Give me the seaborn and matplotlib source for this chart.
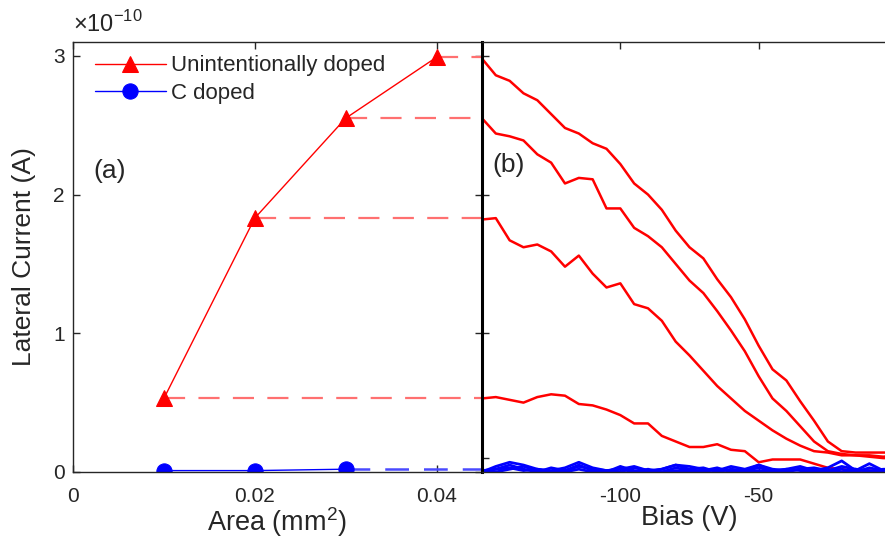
import numpy as np
import pandas as pd
import seaborn as sns
import matplotlib
matplotlib.use('Agg')
import matplotlib.pyplot as plt

# 数据 (电流单位: 1e-10 A)
area = [0.01, 0.02, 0.03, 0.04]
current_uid = [0.53, 1.83, 2.55, 2.99]
area_c = [0.01, 0.02, 0.03]
current_c = [0.01, 0.01, 0.02]

bias = np.arange(-150, 1, 5)
red1 = [2.98, 2.86, 2.82, 2.73, 2.68, 2.58, 2.48, 2.44, 2.37, 2.33, 2.22, 2.08, 2.00, 1.89, 1.74, 1.62,
        1.54, 1.39, 1.26, 1.10, 0.91, 0.74, 0.66, 0.51, 0.37, 0.22, 0.15, 0.14, 0.14, 0.14, 0.14]
red2 = [2.55, 2.44, 2.42, 2.39, 2.29, 2.23, 2.08, 2.12, 2.11, 1.90, 1.90, 1.76, 1.70, 1.62, 1.50, 1.38,
        1.29, 1.16, 1.02, 0.87, 0.69, 0.53, 0.44, 0.33, 0.22, 0.15, 0.13, 0.12, 0.12, 0.11, 0.12]
red3 = [1.82, 1.83, 1.67, 1.62, 1.64, 1.59, 1.48, 1.56, 1.43, 1.33, 1.36, 1.21, 1.18, 1.09, 0.94, 0.84,
        0.73, 0.62, 0.53, 0.44, 0.37, 0.30, 0.24, 0.19, 0.15, 0.14, 0.12, 0.12, 0.11, 0.10, 0.10]
red4 = [0.53, 0.54, 0.52, 0.50, 0.54, 0.56, 0.55, 0.49, 0.48, 0.45, 0.41, 0.35, 0.35, 0.26, 0.22, 0.18,
        0.18, 0.20, 0.16, 0.15, 0.07, 0.09, 0.09, 0.09, 0.06, 0.03, 0.02, 0.01, 0.01, 0.01, 0.01]
blue1 = [0.00, 0.04, 0.07, 0.05, 0.02, 0.01, 0.03, 0.07, 0.03, 0.01, 0.02, 0.04, 0.01, 0.02, 0.05, 0.04,
         0.02, 0.01, 0.04, 0.02, 0.05, 0.02, 0.01, 0.02, 0.01, 0.03, 0.08, 0.01, 0.06, 0.01, 0.08]
blue2 = [0.01, 0.02, 0.05, 0.02, 0.00, 0.03, 0.01, 0.05, 0.01, 0.00, 0.04, 0.01, 0.00, 0.02, 0.05, 0.02,
         0.03, 0.00, 0.02, 0.01, 0.05, 0.01, 0.00, 0.02, 0.03, 0.01, 0.04, 0.02, 0.01, 0.00, 0.05]
blue3 = [0.00, 0.02, 0.03, 0.01, 0.02, 0.00, 0.01, 0.04, 0.02, 0.01, 0.00, 0.03, 0.01, 0.00, 0.03, 0.01,
         0.01, 0.03, 0.00, 0.01, 0.03, 0.01, 0.02, 0.04, 0.01, 0.00, 0.02, 0.00, 0.03, 0.01, 0.03]
blue4 = [0.00, 0.00, 0.02, 0.04, 0.01, 0.00, 0.00, 0.02, 0.00, 0.01, 0.02, 0.00, 0.02, 0.00, 0.01, 0.00,
         0.00, 0.02, 0.01, 0.00, 0.01, 0.00, 0.02, 0.01, 0.00, 0.01, 0.00, 0.02, 0.00, 0.02, 0.01]

sns.set_style('white')
plt.rcParams['font.family'] = ['Liberation Sans', 'DejaVu Sans']
plt.rcParams['mathtext.fontset'] = 'custom'
plt.rcParams['mathtext.rm'] = 'Liberation Sans'
dark = '#262626'

fig = plt.figure(figsize=(8.85, 5.43), dpi=100)
ax1 = fig.add_axes([0.0825, 0.1308, 0.4621, 0.7919])
ax2 = fig.add_axes([0.5446, 0.1308, 0.4690, 0.7919])

# (a) 面积
sns.lineplot(x=area, y=current_uid, color='red', marker='^', markersize=11, markeredgecolor='red',
             linewidth=1, label='Unintentionally doped', ax=ax1)
sns.lineplot(x=area_c, y=current_c, color='blue', marker='o', markersize=11, markeredgecolor='blue',
             linewidth=1, label='C doped', ax=ax1)
x_end = 0.045
for a, c in zip(area, current_uid):
    ax1.plot([a, x_end], [c, c], color='#ff7070', linewidth=1.6, dashes=(9.5, 6), zorder=1)
ax1.plot([area_c[-1], x_end], [current_c[-1], current_c[-1]], color='#4a4aff', linewidth=1.8,
         dashes=(9.5, 6), zorder=1)
ax1.set_xlim(0, x_end)
ax1.set_ylim(0, 3.1)
ax1.set_xticks([0, 0.02, 0.04])
ax1.set_xticklabels(['0', '0.02', '0.04'])
ax1.set_yticks([0, 1, 2, 3])
ax1.set_xlabel('Area (mm$^2$)', fontsize=19.5, color=dark, labelpad=-1)
ax1.set_ylabel('Lateral Current (A)', fontsize=19, color=dark, labelpad=12)
ax1.text(0.0, 1.012, r'$\times10^{-10}$', transform=ax1.transAxes, fontsize=17, color=dark,
         ha='left', va='bottom')
ax1.text(0.05, 0.70, '(a)', transform=ax1.transAxes, fontsize=19, color=dark, va='center')
leg = ax1.legend(loc='upper left', bbox_to_anchor=(0.02, 1.0), frameon=False, fontsize=16,
                 handlelength=3.2, handletextpad=0.25, labelspacing=0.3, borderaxespad=0.2)
for t in leg.get_texts():
    t.set_color(dark)

# (b) 偏压
for r in [red1, red2, red3, red4]:
    sns.lineplot(x=bias, y=r, color='red', linewidth=1.8, ax=ax2)
for b in [blue1, blue2, blue3, blue4]:
    sns.lineplot(x=bias, y=b, color='blue', linewidth=2, ax=ax2)
ax2.set_xlim(-150, 0)
ax2.set_ylim(0, 3.1)
ax2.set_xticks([-150, -100, -50, 0])
ax2.set_xticklabels(['', '-100', '-50', ''])
ax2.set_yticks([0.1, 1, 2, 3])
ax2.set_yticklabels([])
ax2.set_xlabel('Bias (V)', fontsize=19.5, color=dark, labelpad=-1)
ax2.text(0.024, 0.715, '(b)', transform=ax2.transAxes, fontsize=19, color=dark, va='center')

for ax in [ax1, ax2]:
    ax.set_facecolor('none')
    ax.tick_params(direction='in', bottom=True, left=True, top=True, right=True, length=5, width=1,
                   color=dark, labelsize=15, labelcolor=dark, pad=6)
    ax.tick_params(axis='x', pad=11)
    for s in ax.spines.values():
        s.set_color(dark)
        s.set_linewidth(1)
ax2.spines['left'].set_linewidth(2.2)
ax2.spines['left'].set_color('black')

fig.savefig('out.png', dpi=100)
